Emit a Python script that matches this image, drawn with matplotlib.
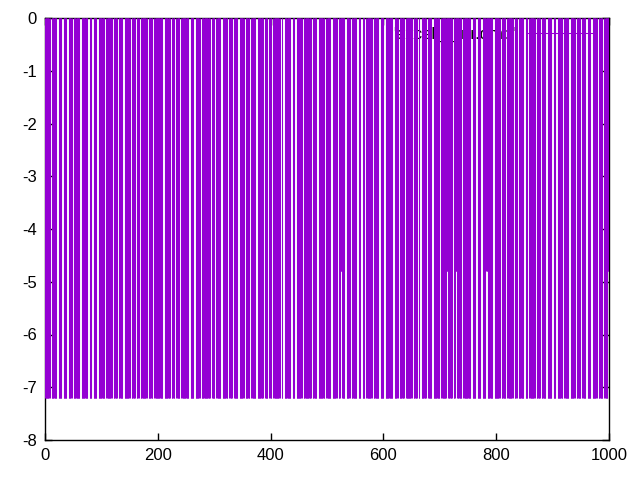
import numpy as np
import matplotlib
matplotlib.use("Agg")
import matplotlib.pyplot as plt

plt.rcParams['font.family'] = ['Liberation Sans', 'DejaVu Sans']
plt.rcParams['axes.unicode_minus'] = False

# impulses: 1000 samples, most at the low level, some gaps (0) and a few short ones
n_points = 1000
low_level = -7.2
short_level = -4.8
# approximate sample index where each white gap starts (gap width 3 samples)
gap_starts = [9, 21, 30, 39, 48, 62, 76, 83, 92, 106, 119, 128, 138, 151, 160,
              167, 181, 191, 209, 222, 230, 239, 255, 264, 275, 293, 301, 312,
              324, 332, 342, 353, 363, 374, 387, 395, 402, 417, 422, 436, 443,
              456, 472, 482, 496, 507, 518, 532, 541, 553, 560, 567, 580, 592,
              601, 617, 626, 637, 651, 660, 665, 676, 686, 700, 722, 739, 755,
              764, 773, 794, 807, 817, 830, 837, 849, 856, 869, 878, 888, 899,
              906, 918, 929, 940, 950, 959, 968, 979, 989]
# samples that only go down to the short level
short_idx = [524, 525, 526, 712, 713, 714, 728, 729, 730, 782, 783, 784, 998, 999]
series_label = "'excel_ll_nr.dmp'"

x = np.arange(n_points)
y = np.full(n_points, low_level)
for g in gap_starts:
    y[g:g + 3] = 0.0
y[short_idx] = short_level

fig = plt.figure(figsize=(6.4, 4.8), dpi=100)
ax = fig.add_axes([45 / 640, 40 / 480, 564 / 640, 422 / 480])

purple = '#9400d3'
ax.vlines(x, 0, y, color=purple, linewidth=0.75, zorder=3)
# legend sample line
ax.plot([], [], color=purple, linewidth=0.75, label=series_label)

ax.set_xlim(0, 1000)
ax.set_ylim(-8, 0)
ax.set_xticks(range(0, 1001, 200))
ax.set_yticks(range(-8, 1))
ax.tick_params(direction='in', top=True, right=True, length=5, width=1,
               labelsize=12, pad=6)
for s in ax.spines.values():
    s.set_linewidth(1)

leg = ax.legend(loc='upper right', bbox_to_anchor=(0.975, 0.988),
                frameon=False, fontsize=12, handlelength=3.8,
                handletextpad=0.8, borderaxespad=0.0, borderpad=0.2,
                markerfirst=False)
leg.set_zorder(1)

fig.savefig('out.png', dpi=100)
